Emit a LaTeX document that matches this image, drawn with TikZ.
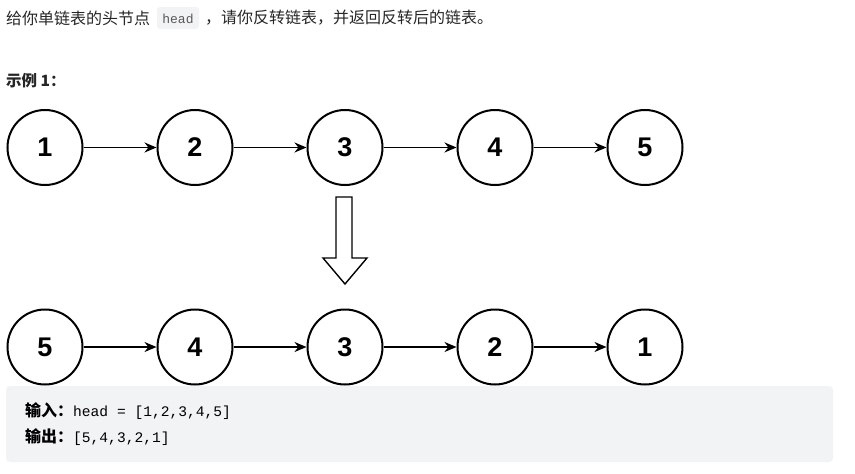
\documentclass[tikz,border=0pt]{standalone}
\usepackage{fontspec}
\setmainfont{Noto Sans CJK SC}
\newfontfamily\cjk{Noto Sans CJK SC}
\newfontfamily\numfont{Liberation Sans}
\newfontfamily\codefont{Liberation Mono}
\usetikzlibrary{arrows.meta}
\definecolor{txt}{HTML}{262626}
\definecolor{codebg}{HTML}{F2F3F5}
\definecolor{codetxt}{HTML}{595959}
\tikzset{
  x=1pt, y=-1pt,
  lnode/.style={circle, draw=black, line width=2pt, minimum size=75pt, inner sep=0pt, font=\numfont\bfseries\fontsize{27}{27}\selectfont},
  link/.style={-{Stealth[length=12pt,width=10pt]}, line width=1.5pt},
  plain/.style={anchor=west, inner sep=0pt, text=txt, font=\cjk\fontsize{16}{18}\selectfont},
}
\begin{document}
\begin{tikzpicture}
\useasboundingbox (0,0) rectangle (855,474);
% header
\fill[codebg, rounded corners=3pt] (157,7) rectangle (199,29);
\node[plain] (t1) at (6,18) {给你单链表的头节点};
\node[anchor=center, inner sep=0pt, text=codetxt, font=\codefont\fontsize{13}{15}\selectfont] (code) at (178,19) {head};
\node[plain] (t2) at (205,18) {，请你反转链表，并返回反转后的链表。};
\node[plain, font=\cjk\bfseries\fontsize{15.5}{18}\selectfont] (ex) at (6,81) {示例 1：};
% top row
\foreach \n/\v [count=\i] in {a1/1,a2/2,a3/3,a4/4,a5/5}{
  \node[lnode] (\n) at ({45+150*(\i-1)},147.5) {\v};
}
\draw[link] (a1) -- (a2);
\draw[link] (a2) -- (a3);
\draw[link] (a3) -- (a4);
\draw[link] (a4) -- (a5);
% hollow arrow
\draw[line width=1.4pt, line join=miter, fill=white] (336,197) -- (352,197) -- (352,258) -- (367,258) -- (345,284) -- (323,258) -- (336,258) -- cycle;
% bottom row
\foreach \n/\v [count=\i] in {b1/5,b2/4,b3/3,b4/2,b5/1}{
  \node[lnode] (\n) at ({45+150*(\i-1)},347) {\v};
}
\draw[link] (b1) -- (b2);
\draw[link] (b2) -- (b3);
\draw[link] (b3) -- (b4);
\draw[link] (b4) -- (b5);
% output box
\fill[codebg, rounded corners=4pt] (6,386) rectangle (833,462);
\node[anchor=west, inner sep=0pt, text=black, font=\codefont\fontsize{14.6}{16}\selectfont] (in) at (25,411) {{\cjk\bfseries\fontsize{16}{18}\selectfont 输入：}head = [1,2,3,4,5]};
\node[anchor=west, inner sep=0pt, text=black, font=\codefont\fontsize{14.6}{16}\selectfont] (out) at (25,437) {{\cjk\bfseries\fontsize{16}{18}\selectfont 输出：}[5,4,3,2,1]};
\end{tikzpicture}
\end{document}
